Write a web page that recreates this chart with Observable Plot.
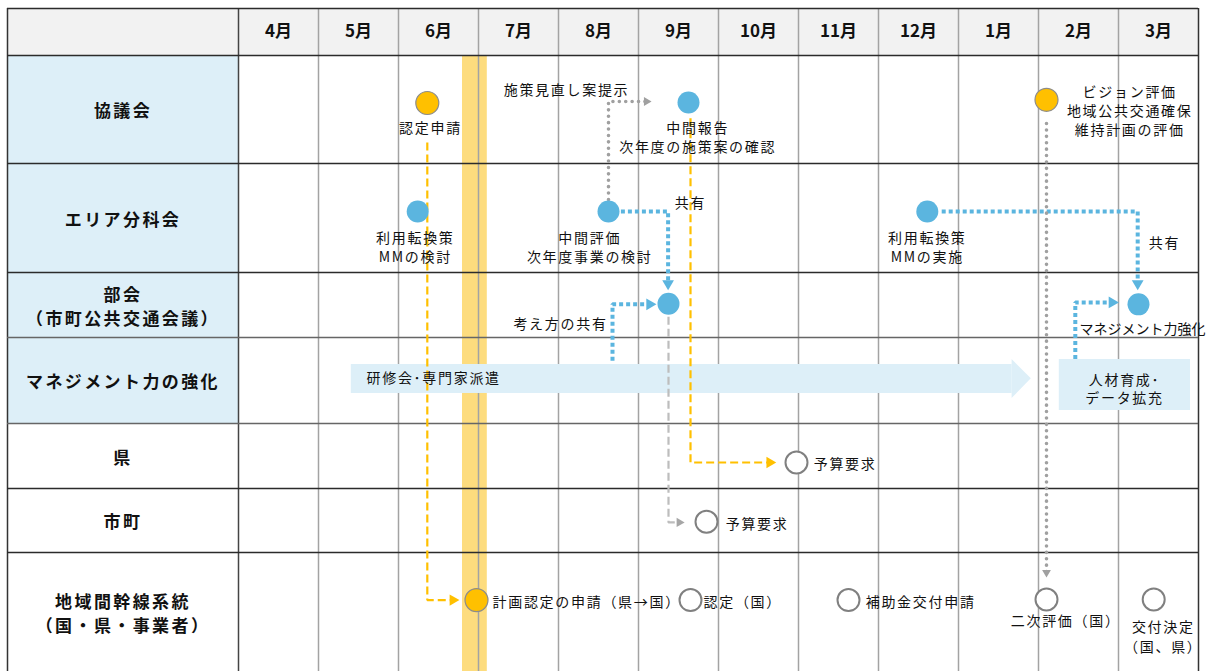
<!DOCTYPE html>
<html><head><meta charset="utf-8">
<script src="https://cdn.jsdelivr.net/npm/d3@7"></script>
<script src="https://cdn.jsdelivr.net/npm/@observablehq/plot@0.6"></script>
<style>
html,body{margin:0;padding:0;background:#fff;}
g[aria-description="note"] text{letter-spacing:1.7px;}
g[aria-description="rowlabel"] text{letter-spacing:2.4px;}
</style></head><body><div id="chart"></div>
<script>
// ---------- DATA ----------
const months = ["4月","5月","6月","7月","8月","9月","10月","11月","12月","1月","2月","3月"];
const rowNames = ["協議会","エリア分科会","部会\n（市町公共交通会議）","マネジメント力の強化","県","市町","地域間幹線系統\n（国・県・事業者）"];
const rowGroup = ["会議体","会議体","会議体","会議体","行政","行政","行政"];
// month position measured from start of April (0) ; v = position inside the row (0 top, 1 bottom)
const applyPeriod = {start: 2.8, end: 3.11};
const events = [
  {row:0, m:2.36,  v:0.44,  kind:"計画"},   // 認定申請
  {row:0, m:5.625, v:0.435, kind:"会議"},   // 中間報告
  {row:0, m:10.1,  v:0.41,  kind:"計画"},   // ビジョン評価
  {row:1, m:2.24,  v:0.44,  kind:"会議"},   // 利用転換策 MMの検討
  {row:1, m:4.625, v:0.44,  kind:"会議"},   // 中間評価
  {row:1, m:8.61,  v:0.44,  kind:"会議"},   // 利用転換策 MMの実施
  {row:2, m:5.375, v:0.48,  kind:"会議"},   // 考え方の共有
  {row:2, m:11.25, v:0.49,  kind:"会議"},   // マネジメント力強化
  {row:4, m:6.975, v:0.60,  kind:"手続"},   // 県 予算要求
  {row:5, m:5.85,  v:0.52,  kind:"手続"},   // 市町 予算要求
  {row:6, m:2.975, v:0.40,  kind:"計画"},   // 計画認定の申請
  {row:6, m:5.65,  v:0.40,  kind:"手続"},   // 認定（国）
  {row:6, m:7.625, v:0.40,  kind:"手続"},   // 補助金交付申請
  {row:6, m:10.1,  v:0.395, kind:"手続"},   // 二次評価（国）
  {row:6, m:11.44, v:0.395, kind:"手続"}    // 交付決定
];
const notes = [
  {t:"認定申請", m:2.4, y:0.657, a:"middle"},
  {t:"施策見直し案提示", m:4.1, y:0.305, a:"middle"},
  {t:"中間報告\n次年度の施策案の確認", m:5.74, y:0.745, a:"middle"},
  {t:"ビジョン評価\n地域公共交通確保\n維持計画の評価", m:11.14, y:0.505, a:"middle"},
  {t:"利用転換策\nMMの検討", m:2.21, y:1.757, a:"middle"},
  {t:"中間評価\n次年度事業の検討", m:4.39, y:1.757, a:"middle"},
  {t:"共有", m:5.65, y:1.349, a:"middle"},
  {t:"利用転換策\nMMの実施", m:8.61, y:1.757, a:"middle"},
  {t:"共有", m:11.575, y:1.716, a:"middle"},
  {t:"考え方の共有", m:4.025, y:2.77, a:"middle"},
  {t:"予算要求", m:7.19, y:4.6, a:"start"},
  {t:"予算要求", m:6.09, y:5.54, a:"start"},
  {t:"計画認定の申請（県→国）", m:3.175, y:6.403, a:"start"},
  {t:"認定（国）", m:5.8125, y:6.403, a:"start"},
  {t:"補助金交付申請", m:7.84, y:6.403, a:"start"},
  {t:"二次評価（国）", m:10.34, y:6.563, a:"middle"},
  {t:"交付決定\n（国、県）", m:11.56, y:6.70, a:"middle"}
];
const plainNotes = [
  {t:"マネジメント力強化", m:11.3, y:2.877}
];
const periods = [
  {t:"研修会･専門家派遣", row:3, start:1.41, end:9.91, kind:"arrow", tm:1.6},
  {t:"人材育成･\nデータ拡充", row:3, start:10.26, end:11.9, kind:"box", tm:11.075}
];
const links = [
  {kind:"提示", pts:[[4.625,1.33],[4.625,0.426],[5.1,0.426]]},
  {kind:"共有", pts:[[4.78,1.44],[5.37,1.44],[5.37,2.17]]},
  {kind:"共有", pts:[[8.79,1.44],[11.24,1.44],[11.24,2.17]]},
  {kind:"共有", pts:[[4.675,3.27],[4.675,2.49],[5.14,2.49]]},
  {kind:"共有", pts:[[10.46,3.25],[10.46,2.46],[10.92,2.46]]},
  {kind:"申請", pts:[[2.36,0.806],[2.36,6.40],[2.68,6.40]]},
  {kind:"申請", pts:[[5.65,0.58],[5.65,4.6],[6.64,4.6]]},
  {kind:"予算", pts:[[5.375,2.68],[5.375,5.53],[5.51,5.53]]},
  {kind:"提示", pts:[[10.1,0.63],[10.1,6.168]]}
];

// ---------- LAYOUT / STYLE ----------
const rowEdgesPx = [8,55,163,272,337,423,488,552,671];
const xEdgesPx = [7,238,1198];
const FONT = "'Noto Sans CJK JP','Noto Sans',sans-serif";
const kindStyle = {
  "計画": {fill:"#FFC000", stroke:"#8C8C8C", strokeWidth:1.2, r:11.5},
  "会議": {fill:"#5BB5DF", stroke:"none", strokeWidth:0, r:11},
  "手続": {fill:"#FFFFFF", stroke:"#808080", strokeWidth:2, r:11}
};
const linkStyle = {
  "共有": {stroke:"#5BB5DF", strokeWidth:4, strokeDasharray:"4,3", strokeLinecap:"butt", head:"#5BB5DF", hr:5.6},
  "提示": {stroke:"#A0A0A0", strokeWidth:3.6, strokeDasharray:"0,6.4", strokeLinecap:"round", head:"#A0A0A0", hr:4.2},
  "申請": {stroke:"#FFC000", strokeWidth:2.2, strokeDasharray:"8,4", strokeLinecap:"butt", head:"#FFC000", hr:5.4},
  "予算": {stroke:"#BDBDBD", strokeWidth:2.2, strokeDasharray:"8,4", strokeLinecap:"butt", head:"#A6A6A6", hr:4.4}
};
const headLen = 0.24;

// ---------- DERIVED ----------
const monthData = months.map((t,i)=>({t, m:i+0.5}));
const rowData = rowNames.map((t,i)=>({t, y:i+0.5, group:rowGroup[i]}));
const linkPts = links.flatMap((l,i)=>l.pts.map(([m,y])=>({id:i, kind:l.kind, m, y})));
const heads = links.map(l=>{
  const a=l.pts[l.pts.length-2], b=l.pts[l.pts.length-1];
  return {m:b[0], y:b[1], kind:l.kind, rot: (b[0]-a[0]) > 0 ? 90 : 180};
});
const arrowP = periods.filter(p=>p.kind==="arrow");
const boxP = periods.filter(p=>p.kind==="box");

const marks = [
  Plot.rect([0], {x1:-1, x2:12, y1:-1, y2:0, fill:"#F2F2F2"}),
  Plot.rect(rowData.filter(d=>d.group==="会議体"), {x1:-1, x2:0, y1:d=>d.y-0.5, y2:d=>d.y+0.5, fill:"#DDEFF8"}),
  Plot.rect([applyPeriod], {x1:"start", x2:"end", y1:0, y2:7, fill:"#FDDC7E"}),
  Plot.ruleX(d3.range(1,12), {y1:-1, y2:7, stroke:"#A3A3A3", strokeWidth:1.5}),
  Plot.ruleX([0], {y1:-1, y2:7, stroke:"#444", strokeWidth:1.5}),
  Plot.ruleX([-1,12], {y1:-1, y2:7, stroke:"#333", strokeWidth:1.5}),
  Plot.ruleY([-1,0,1,2,5,6], {x1:-1, x2:12, stroke:"#2b2b2b", strokeWidth:1.3}),
  Plot.ruleY([3,4], {x1:-1, x2:12, stroke:"#666", strokeWidth:1.6}),
  Plot.rect(arrowP, {x1:"start", x2:d=>d.end-headLen, y1:d=>d.row+0.314, y2:d=>d.row+0.651, fill:"#DDEFF8"}),
  ...arrowP.map(p=>Plot.area([{x:p.end-headLen, y1:p.row+0.256, y2:p.row+0.709},{x:p.end, y1:p.row+0.48, y2:p.row+0.48}], {x1:"x", y1:"y1", y2:"y2", fill:"#DDEFF8"})),
  Plot.rect(boxP, {x1:"start", x2:"end", y1:d=>d.row+0.256, y2:d=>d.row+0.849, fill:"#DDEFF8"}),
  ...Object.entries(linkStyle).map(([k,s])=>Plot.line(linkPts.filter(d=>d.kind===k), {x:"m", y:"y", z:"id", stroke:s.stroke, strokeWidth:s.strokeWidth, strokeDasharray:s.strokeDasharray, strokeLinecap:s.strokeLinecap, strokeLinejoin:"miter"})),
  ...Object.entries(linkStyle).map(([k,s])=>Plot.dot(heads.filter(d=>d.kind===k), {x:"m", y:"y", symbol:"triangle2", rotate:"rot", r:s.hr, fill:s.head, stroke:"none"})),
  ...Object.entries(kindStyle).map(([k,s])=>Plot.dot(events.filter(d=>d.kind===k), {x:"m", y:d=>d.row+d.v, r:s.r, fill:s.fill, stroke:s.stroke, strokeWidth:s.strokeWidth})),
  Plot.text(monthData, {x:"m", y:-0.5, text:"t", fontSize:17, fontWeight:"bold", fill:"#111"}),
  Plot.text(rowData, {x:-0.5, y:"y", text:"t", fontSize:17, fontWeight:"bold", fill:"#111", lineHeight:1.45, ariaDescription:"rowlabel"}),
  ...["start","middle"].map(a=>Plot.text(notes.filter(d=>d.a===a), {x:"m", y:"y", text:"t", textAnchor:a, fontSize:14, fill:"#111", lineHeight:1.37, ariaDescription:"note"})),
  Plot.text(plainNotes, {x:"m", y:"y", text:"t", fontSize:14, fill:"#111"}),
  Plot.text(arrowP, {x:"tm", y:d=>d.row+0.48, text:"t", textAnchor:"start", fontSize:14, fill:"#111", ariaDescription:"note"}),
  Plot.text(boxP, {x:"tm", y:d=>d.row+0.593, text:"t", fontSize:14, fill:"#111", lineHeight:1.3, ariaDescription:"note"})
];

const chart = Plot.plot({
  width:1210, height:671,
  marginTop:0, marginBottom:0, marginLeft:0, marginRight:0,
  x:{type:"linear", domain:[-1,0,12], range:xEdgesPx, axis:null},
  y:{type:"linear", domain:d3.range(-1,8), range:rowEdgesPx, axis:null},
  style:{fontFamily:FONT, background:"#fff", overflow:"visible"},
  marks
});
document.getElementById("chart").append(chart);
</script></body></html>
